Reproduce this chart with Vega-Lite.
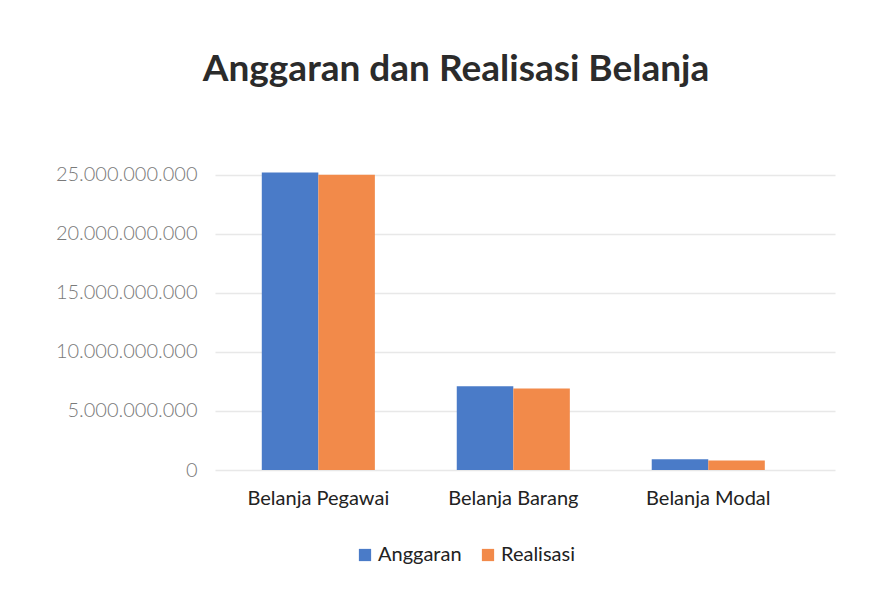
{
  "$schema": "https://vega.github.io/schema/vega-lite/v6.json",
  "autosize": "none",
  "width": 620,
  "height": 307,
  "padding": {"left": 215, "top": 163, "right": 56, "bottom": 122},
  "background": "white",
  "title": {
    "text": "Anggaran dan Realisasi Belanja",
    "font": "Lato",
    "fontSize": 37,
    "fontWeight": "bold",
    "color": "#2b2b2b",
    "anchor": "middle",
    "dx": -69,
    "offset": 74
  },
  "data": {
    "values": [
      {"kategori": "Belanja Pegawai", "jenis": "Anggaran", "nilai": 25200000000},
      {"kategori": "Belanja Pegawai", "jenis": "Realisasi", "nilai": 25000000000},
      {"kategori": "Belanja Barang", "jenis": "Anggaran", "nilai": 7100000000},
      {"kategori": "Belanja Barang", "jenis": "Realisasi", "nilai": 6900000000},
      {"kategori": "Belanja Modal", "jenis": "Anggaran", "nilai": 900000000},
      {"kategori": "Belanja Modal", "jenis": "Realisasi", "nilai": 800000000}
    ]
  },
  "mark": {"type": "bar"},
  "encoding": {
    "x": {
      "field": "kategori",
      "type": "nominal",
      "sort": ["Belanja Pegawai", "Belanja Barang", "Belanja Modal"],
      "scale": {"paddingInner": 0.42, "paddingOuter": 0.3, "align": 0.4},
      "axis": {
        "title": null,
        "labelAngle": 0,
        "labelFont": "Lato",
        "labelFontSize": 20,
        "labelColor": "#222222",
        "labelPadding": 18,
        "ticks": false,
        "domain": false,
        "grid": false
      }
    },
    "xOffset": {"field": "jenis", "type": "nominal", "sort": ["Anggaran", "Realisasi"]},
    "y": {
      "field": "nilai",
      "type": "quantitative",
      "scale": {"domain": [0, 26000000000], "nice": false},
      "axis": {
        "title": null,
        "values": [0, 5000000000, 10000000000, 15000000000, 20000000000, 25000000000],
        "labelExpr": "replace(format(datum.value, ',.0f'), /,/g, '.')",
        "labelFont": "Lato",
        "labelFontSize": 20,
        "labelFontWeight": 300,
        "labelColor": "#7a7a7a",
        "labelPadding": 18,
        "ticks": false,
        "domain": false,
        "grid": true,
        "gridColor": "#e8e8e8",
        "gridWidth": 1.5
      }
    },
    "color": {
      "field": "jenis",
      "type": "nominal",
      "sort": ["Anggaran", "Realisasi"],
      "scale": {"domain": ["Anggaran", "Realisasi"], "range": ["#4a7bc8", "#f28a4a"]},
      "legend": {
        "title": null,
        "orient": "none",
        "direction": "horizontal",
        "legendX": 140,
        "legendY": 382,
        "symbolType": "square",
        "symbolSize": 150,
        "labelFont": "Lato",
        "labelFontSize": 20,
        "labelColor": "#222222",
        "columnPadding": 16,
        "labelOffset": 3
      }
    }
  },
  "config": {"view": {"stroke": null}}
}
